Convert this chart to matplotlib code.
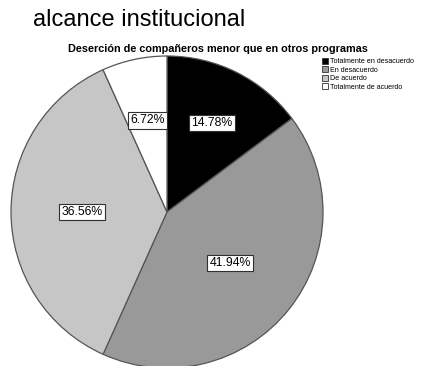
import matplotlib
matplotlib.use("Agg")
import matplotlib.pyplot as plt
import numpy as np

categories = ["Totalmente en desacuerdo", "En desacuerdo", "De acuerdo", "Totalmente de acuerdo"]
values = [14.78, 41.94, 36.56, 6.72]
labels = ["14.78%", "41.94%", "36.56%", "6.72%"]
colors = ["#000000", "#999999", "#c6c6c6", "#ffffff"]
label_radii = [0.64, 0.52, 0.545, 0.60]

W, H = 422, 366
fig = plt.figure(figsize=(W / 100, H / 100), dpi=100)
fig.patch.set_facecolor("white")

fig.text(33 / W, 1 - 20 / H, "alcance institucional", fontsize=17,
         family="Liberation Sans", ha="left", va="center")
fig.text(218 / W, 1 - 49 / H, "Deserción de compañeros menor que en otros programas",
         fontsize=7.8, fontweight="bold", family="Liberation Sans", ha="center", va="center")

cx, cy, r = 167, 212, 156
ax = fig.add_axes([(cx - r) / W, (H - cy - r) / H, 2 * r / W, 2 * r / H])
wedges, _ = ax.pie(values, colors=colors, startangle=90, counterclock=False,
                   wedgeprops=dict(edgecolor="#555555", linewidth=0.9))
for w, lab, rr in zip(wedges, labels, label_radii):
    ang = np.deg2rad((w.theta1 + w.theta2) / 2)
    ax.text(rr * np.cos(ang), rr * np.sin(ang), lab, ha="center", va="center",
            fontsize=8.8, family="Liberation Sans",
            bbox=dict(boxstyle="square,pad=0.18", facecolor="white", edgecolor="#303030", linewidth=0.8))
ax.set_xlim(-1, 1)
ax.set_ylim(-1, 1)
ax.set_aspect("equal")
ax.axis("off")
for w in wedges:
    w.set_clip_on(False)

leg = fig.legend(wedges, categories, loc="upper left", bbox_to_anchor=(322 / W, 1 - 58 / H),
                 frameon=False, handlelength=0.9, handleheight=0.9,
                 handletextpad=0.3, labelspacing=0.15, borderpad=0, borderaxespad=0,
                 prop=dict(family="Liberation Sans", size=5.1))
for h in leg.legend_handles:
    h.set_edgecolor("#303030")
    h.set_linewidth(0.6)

fig.savefig("out.png", dpi=100)
